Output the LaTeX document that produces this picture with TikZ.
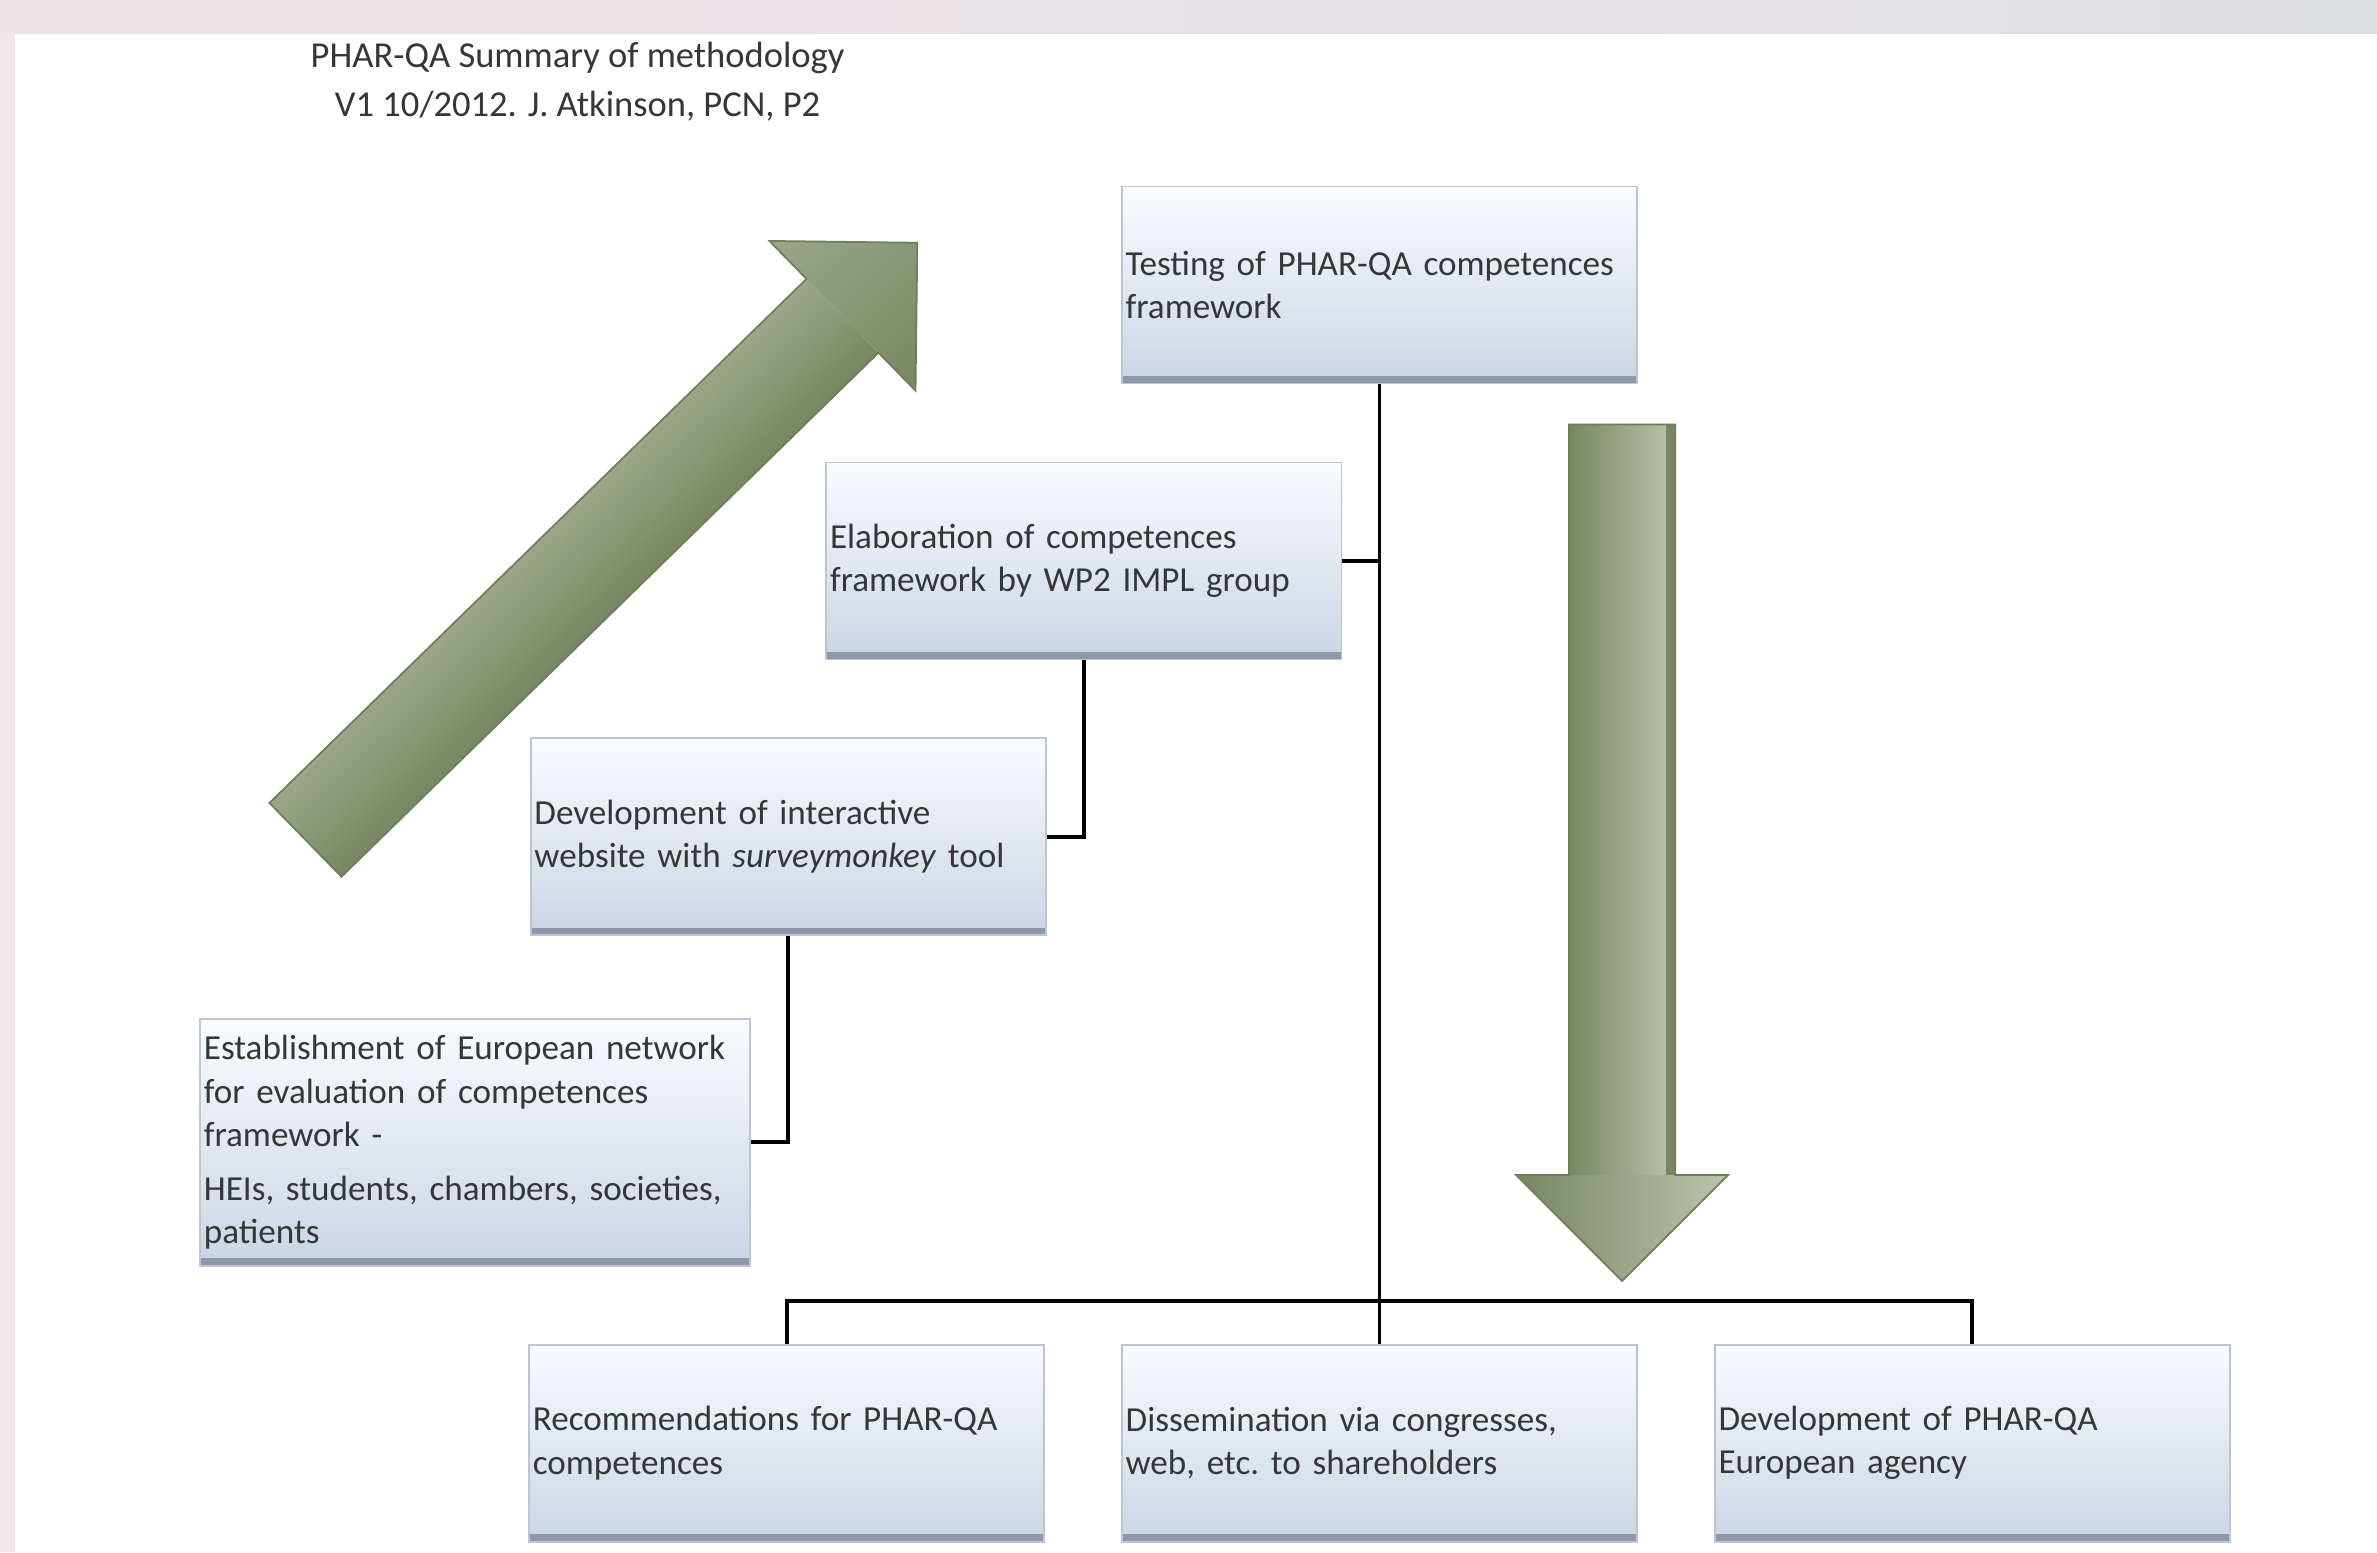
\documentclass[tikz,border=0pt]{standalone}
\usepackage{fontspec}
\setmainfont{Carlito}
\usetikzlibrary{positioning}
\definecolor{boxtop}{HTML}{F7FCFF}
\definecolor{boxbot}{HTML}{CBD5E3}
\definecolor{boxline}{HTML}{BCC5D1}
\definecolor{boxbase}{HTML}{8D99AA}
\definecolor{txtgrey}{HTML}{363636}
\definecolor{arrowdark}{HTML}{778762}
\definecolor{arrowmid}{HTML}{9AA888}
\definecolor{arrowlight}{HTML}{BAC4AC}
\definecolor{arrowedge}{HTML}{6F7D5C}
\definecolor{bandleft}{HTML}{EEE4E7}
\definecolor{bandright}{HTML}{DEDFE3}
\definecolor{stripcol}{HTML}{EEE6E9}
\tikzset{
  stepbox/.style={rectangle, draw=boxline, line width=0.5pt,
    top color=boxtop, bottom color=boxbot,
    minimum width=5.154cm, minimum height=1.971cm,
    text width=5.08cm, inner xsep=1pt, inner ysep=1pt, align=left,
    font=\fontsize{10}{12.3}\selectfont\frenchspacing, text=txtgrey,
    path picture={\fill[boxbase] (path picture bounding box.south west)
      rectangle ([yshift=2.2pt]path picture bounding box.south east);}},
  widebox/.style={stepbox, minimum width=5.503cm, minimum height=2.471cm, text width=5.43cm},
  link/.style={draw=black, line width=1.1pt},
  blockarrow/.style={draw=arrowedge, line width=0.5pt, line join=miter}
}
\begin{document}
\begin{tikzpicture}[x=0.01516cm, y=-0.01516cm, node distance=0.76cm]
\useasboundingbox (0,0) rectangle (1568,1024);
\fill[white] (0,0) rectangle (1568,1024);
\fill[left color=bandleft, right color=bandright] (0,0) rectangle (1568,22);
\fill[stripcol] (0,22) rectangle (10,1024);

\node[font=\fontsize{10.4}{13.8}\selectfont, text=txtgrey, align=center] (title) at (381,54)
  {PHAR-QA Summary of methodology\\V1 10/2012. J. Atkinson, PCN, P2};

\begin{scope}[transform canvas={shift={(201.5,554)}, rotate=44.3}]
  \shade[top color=arrowmid, middle color=arrowlight, bottom color=arrowdark] (0,-34) rectangle (495,34);
  \shade[top color=arrowmid, middle color=arrowlight, bottom color=arrowdark] (495,-69) -- (564,0) -- (495,69) -- cycle;
  \draw[blockarrow] (0,-34) -- (495,-34) -- (495,-69) -- (564,0) -- (495,69) -- (495,34) -- (0,34) -- cycle;
\end{scope}

\shade[left color=arrowdark, right color=arrowlight] (1035,280) rectangle (1105,775);
\fill[arrowdark] (1099,280) rectangle (1105,775);
\shade[left color=arrowdark, right color=arrowlight] (1000,775) -- (1140,775) -- (1070,845) -- cycle;
\draw[blockarrow] (1035,280) -- (1105,280) -- (1105,775) -- (1140,775) -- (1070,845) -- (1000,775) -- (1035,775) -- cycle;

\node[stepbox] (test) at (910,188) {Testing of PHAR-QA competences\\framework};
\node[stepbox] (elab) at (715,370) {Elaboration of competences\\framework by WP2 IMPL group};
\node[stepbox] (web) at (520,552) {Development of interactive\\website with \textit{surveymonkey} tool};
\node[widebox] (net) at (313.5,753.5) {Establishment of European network\\for evaluation of competences\\framework -\\[3pt]HEIs, students, chambers, societies,\\patients};
\node[stepbox] (diss) at (910,952) {Dissemination via congresses,\\web, etc. to shareholders};
\node[stepbox, left=of diss] (rec) {Recommendations for PHAR-QA\\competences};
\node[stepbox, right=of diss] (agency) {Development of PHAR-QA\\European agency};
\coordinate (bar) at (910,858);

\draw[link] (test.south) -- (diss.north);
\draw[link] (elab.east) -- (elab.east -| test.south);
\draw[link] (elab.south) |- (web.east);
\draw[link] (web.south) |- (net.east);
\draw[link] (rec.north) |- (bar) -| (agency.north);
\end{tikzpicture}
\end{document}
